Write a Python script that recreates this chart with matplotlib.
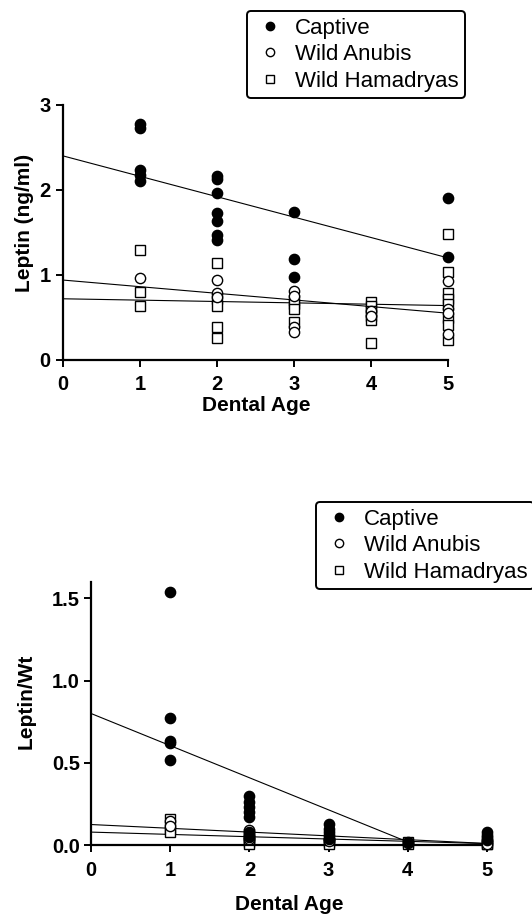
import numpy as np
import matplotlib
matplotlib.use("Agg")
import matplotlib.pyplot as plt
from matplotlib.lines import Line2D

plt.rcParams['font.family'] = ['Liberation Sans', 'DejaVu Sans']

# ---- top panel: Leptin (ng/ml) by dental age ----
top_captive_x = [1, 1, 1, 1, 1, 2, 2, 2, 2, 2, 2, 2, 3, 3, 3, 5, 5]
top_captive_y = [2.78, 2.73, 2.24, 2.18, 2.11, 2.17, 2.13, 1.96, 1.73, 1.63, 1.47, 1.41,
                 1.74, 1.19, 0.98, 1.91, 1.21]

top_anubis_x = [1, 2, 2, 2, 3, 3, 3, 3, 4, 4, 5, 5, 5, 5]
top_anubis_y = [0.96, 0.94, 0.79, 0.74, 0.81, 0.75, 0.39, 0.33, 0.58, 0.52, 0.93, 0.60,
                0.55, 0.30]

top_hamad_x = [1, 1, 1, 2, 2, 2, 2, 2, 3, 3, 3, 3, 4, 4, 4, 4, 4, 4,
               5, 5, 5, 5, 5, 5, 5, 5]
top_hamad_y = [1.29, 0.80, 0.64, 1.14, 0.72, 0.63, 0.39, 0.26, 0.71, 0.66, 0.60, 0.45,
               0.68, 0.63, 0.58, 0.52, 0.47, 0.20,
               1.48, 1.04, 0.79, 0.72, 0.66, 0.49, 0.41, 0.23]

# fitted lines (intercept, slope)
top_fit_captive = (2.40, -0.24)
top_fit_anubis = (0.94, -0.078)
top_fit_hamad = (0.72, -0.016)

# ---- bottom panel: Leptin/Wt by dental age ----
bot_captive_x = [1, 1, 1, 1, 1, 2, 2, 2, 2, 2, 2, 2, 3, 3, 3, 3, 3, 4, 5, 5, 5, 5]
bot_captive_y = [1.54, 0.77, 0.63, 0.62, 0.52, 0.30, 0.26, 0.23, 0.20, 0.17, 0.08, 0.05,
                 0.13, 0.10, 0.08, 0.06, 0.04, 0.02, 0.08, 0.06, 0.05, 0.03]

bot_anubis_x = [1, 1, 2, 2, 2, 3, 3, 4, 5, 5]
bot_anubis_y = [0.15, 0.12, 0.095, 0.06, 0.04, 0.04, 0.025, 0.015, 0.02, 0.01]

bot_hamad_x = [1, 1, 1, 2, 2, 2, 2, 2, 3, 3, 3, 4, 4, 5, 5, 5]
bot_hamad_y = [0.16, 0.10, 0.08, 0.07, 0.05, 0.03, 0.02, 0.01, 0.03, 0.02, 0.01,
               0.02, 0.01, 0.02, 0.01, 0.005]

bot_fit_captive = (0.80, -0.195)
bot_fit_anubis = (0.126, -0.023)
bot_fit_hamad = (0.08, -0.014)

labels = ["Captive", "Wild Anubis", "Wild Hamadryas"]

fig = plt.figure(figsize=(5.32, 9.16), dpi=100)
ax1 = fig.add_axes([0.119, 0.607, 0.7237, 0.2784])
ax2 = fig.add_axes([0.171, 0.0772, 0.7444, 0.2878])

MS = 7.4


def draw_panel(ax, cap, anu, ham, fits):
    xs = np.array([0, 5])
    for b0, b1 in fits:
        ax.plot(xs, b0 + b1 * xs, color="black", lw=0.8, zorder=1)
    ax.plot(ham[0], ham[1], "s", ms=MS, mfc="white", mec="black", mew=1.0, zorder=2, clip_on=False)
    ax.plot(anu[0], anu[1], "o", ms=MS, mfc="white", mec="black", mew=1.0, zorder=3, clip_on=False)
    ax.plot(cap[0], cap[1], "o", ms=MS, mfc="black", mec="black", zorder=4, clip_on=False)
    ax.set_xlim(0, 5)
    ax.set_xticks(range(6))
    for s in ["top", "right"]:
        ax.spines[s].set_visible(False)
    for s in ["left", "bottom"]:
        ax.spines[s].set_linewidth(1.6)
    ax.tick_params(direction="out", length=5, width=1.4, labelsize=14.5)


draw_panel(ax1, (top_captive_x, top_captive_y), (top_anubis_x, top_anubis_y),
           (top_hamad_x, top_hamad_y), [top_fit_captive, top_fit_anubis, top_fit_hamad])
ax1.set_ylim(0, 3)
ax1.set_yticks([0, 1, 2, 3])
ax1.tick_params(axis="x", pad=6)
ax1.tick_params(axis="y", pad=4)
for lab in ax1.get_xticklabels() + ax1.get_yticklabels():
    lab.set_fontweight("bold")
ax1.set_ylabel("Leptin (ng/ml)", fontsize=15, fontweight="bold")
ax1.set_xlabel("Dental Age", fontsize=15, fontweight="bold")
ax1.yaxis.set_label_coords(-0.076, 0.537)
ax1.xaxis.set_label_coords(0.5, -0.14)

draw_panel(ax2, (bot_captive_x, bot_captive_y), (bot_anubis_x, bot_anubis_y),
           (bot_hamad_x, bot_hamad_y), [bot_fit_captive, bot_fit_anubis, bot_fit_hamad])
ax2.set_ylim(0, 1.6)
ax2.set_yticks([0.0, 0.5, 1.0, 1.5])
ax2.set_yticklabels(["0.0", "0.5", "1.0", "1.5"])
ax2.tick_params(axis="x", pad=6)
ax2.tick_params(axis="y", pad=3)
for lab in ax2.get_xticklabels() + ax2.get_yticklabels():
    lab.set_fontweight("bold")
ax2.set_ylabel("Leptin/Wt", fontsize=15, fontweight="bold")
ax2.set_xlabel("Dental Age", fontsize=15, fontweight="bold")
ax2.yaxis.set_label_coords(-0.141, 0.547)
ax2.xaxis.set_label_coords(0.5, -0.19)

handles = [
    Line2D([], [], ls="none", marker="o", ms=6, mfc="black", mec="black"),
    Line2D([], [], ls="none", marker="o", ms=6, mfc="white", mec="black", mew=1.0),
    Line2D([], [], ls="none", marker="s", ms=6, mfc="white", mec="black", mew=1.0),
]


def add_legend(ax, x, y):
    leg = ax.legend(handles, labels, loc="upper left", bbox_to_anchor=(x, y),
                    bbox_transform=fig.transFigure, fontsize=16, frameon=True,
                    fancybox=True, borderpad=0.3, handlelength=1.5,
                    handletextpad=0.35, labelspacing=0.25, borderaxespad=0)
    fr = leg.get_frame()
    fr.set_edgecolor("black")
    fr.set_linewidth(1.4)
    fr.set_alpha(1)
    return leg


add_legend(ax1, 247 / 532, 1 - 11 / 916)
add_legend(ax2, 316 / 532, 1 - 502 / 916)

fig.savefig("out.png", dpi=100)
